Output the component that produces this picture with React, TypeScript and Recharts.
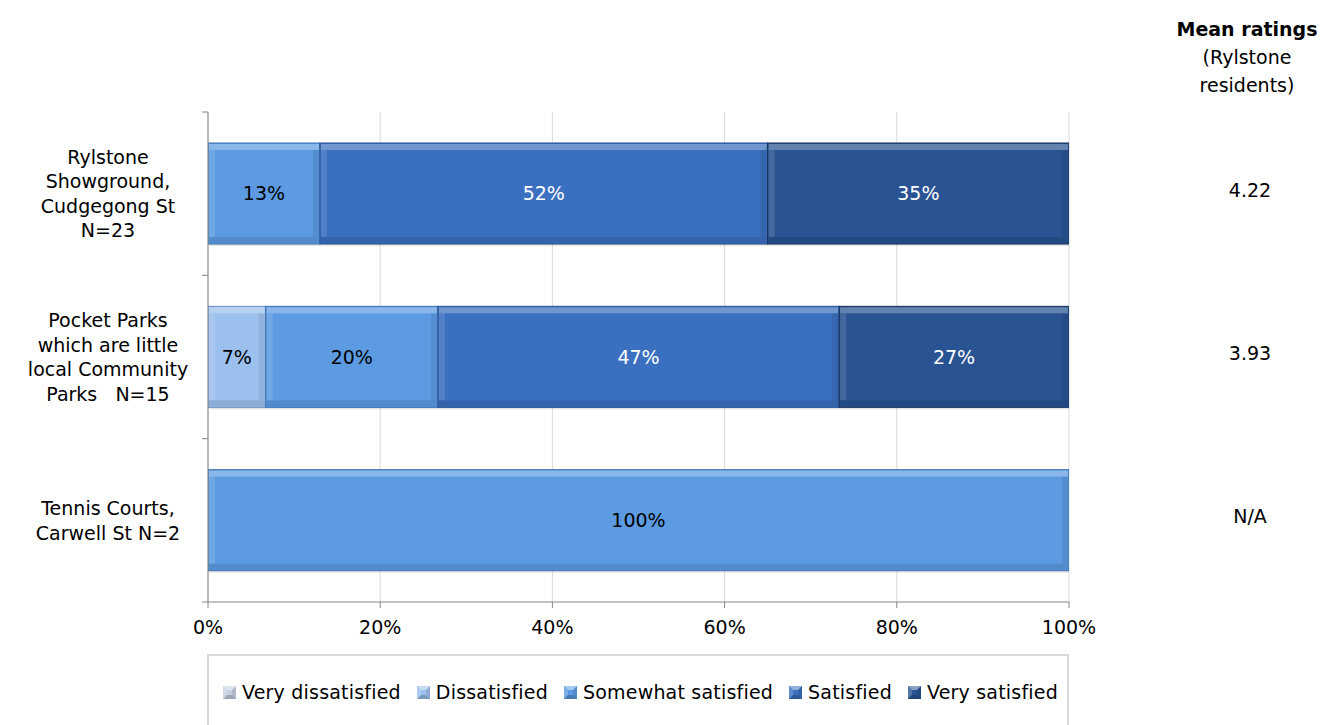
import React from "react";
import { BarChart, Bar, XAxis, YAxis, CartesianGrid, LabelList } from "recharts";

const categories = [
  "Rylstone\nShowground,\nCudgegong St\nN=23",
  "Pocket Parks\nwhich are little\nlocal Community\nParks\u00a0\u00a0\u00a0N=15",
  "Tennis Courts,\nCarwell St N=2",
];
const veryDissatisfied = [0, 0, 0];
const dissatisfied = [0, 6.7, 0];
const somewhatSatisfied = [13, 20, 100];
const satisfied = [52, 46.6, 0];
const verySatisfied = [35, 26.7, 0];
const meanRatings = ["4.22", "3.93", "N/A"];
const xTicks = [0, 20, 40, 60, 80, 100];

const seriesNames = ["Very dissatisfied", "Dissatisfied", "Somewhat satisfied", "Satisfied", "Very satisfied"];
const seriesKeys = ["vd", "d", "ss", "s", "vs"];
const seriesColors = ["#c3d0e2", "#9cc0ee", "#5c9be2", "#3b6fbf", "#295392"];
const seriesDark = ["#8a9ab0", "#6a8fc0", "#3a6fb0", "#244d8e", "#162f5c"];
const seriesLabelColors = ["#000", "#000", "#000", "#fff", "#fff"];

const data = categories.map((name, i) => ({
  name,
  vd: veryDissatisfied[i],
  d: dissatisfied[i],
  ss: somewhatSatisfied[i],
  s: satisfied[i],
  vs: verySatisfied[i],
  mean: meanRatings[i],
}));

const FONT = "'DejaVu Sans', sans-serif";

const makeShape = (idx: number) => (props: any) => {
  const { x, y, width, height } = props;
  if (!width || width <= 0) return <g />;
  const base = seriesColors[idx];
  const dark = seriesDark[idx];
  return (
    <g>
      <rect x={x + 1} y={y + 2} width={width} height={height} fill="#000" opacity={0.1} />
      <rect x={x} y={y} width={width} height={height} fill={base} stroke={dark} strokeWidth={1} />
      <rect x={x + 1} y={y + 1} width={Math.max(0, width - 2)} height={6} fill="#ffffff" opacity={0.28} />
      <rect x={x + 1} y={y + height - 7} width={Math.max(0, width - 2)} height={6} fill="#000000" opacity={0.1} />
      <rect x={x + 1} y={y + 7} width={Math.min(6, width / 4)} height={Math.max(0, height - 14)} fill="#ffffff" opacity={0.12} />
      <rect x={x + width - 7} y={y + 7} width={Math.min(6, width / 4)} height={Math.max(0, height - 14)} fill="#000000" opacity={0.08} />
    </g>
  );
};

const LeftTick = (props: any) => {
  const { x, y, payload, index } = props;
  const lines = String(payload.value).split("\n");
  const half = payload.offset || 490 / 6;
  const lh = 24.5;
  const startY = y - ((lines.length - 1) * lh) / 2;
  return (
    <g>
      <line x1={x - 6} x2={x} y1={y - half} y2={y - half} stroke="#868686" />
      {index === categories.length - 1 && (
        <line x1={x - 6} x2={x} y1={y + half} y2={y + half} stroke="#868686" />
      )}
      <text x={x - 100} y={startY} textAnchor="middle" dominantBaseline="central" fontSize={19} fontFamily={FONT} fill="#000">
        {lines.map((l, i) => (
          <tspan key={i} x={x - 100} dy={i === 0 ? 0 : lh}>
            {l}
          </tspan>
        ))}
      </text>
    </g>
  );
};

const RightTick = (props: any) => {
  const { x, y, index } = props;
  return (
    <text x={x + 181} y={y - 4} textAnchor="middle" dominantBaseline="central" fontSize={19} fontFamily={FONT} fill="#000">
      {meanRatings[index]}
    </text>
  );
};

const LegendIcon = ({ idx }: { idx: number }) => (
  <svg width={13} height={13} style={{ marginRight: 6, verticalAlign: "middle" }}>
    <rect x={0} y={0} width={13} height={13} fill={seriesColors[idx]} />
    <polygon points="0,0 13,0 9,4 4,4" fill="#fff" opacity={0.45} />
    <polygon points="0,13 13,13 9,9 4,9" fill="#000" opacity={0.2} />
    <polygon points="0,0 4,4 4,9 0,13" fill="#fff" opacity={0.2} />
    <polygon points="13,0 9,4 9,9 13,13" fill="#000" opacity={0.1} />
  </svg>
);

export default function App() {
  return (
    <div style={{ position: "absolute", left: 0, top: 0, width: 1326, height: 725, background: "#fff", fontFamily: FONT }}>
      <div
        style={{
          position: "absolute",
          left: 1167,
          top: 15,
          width: 160,
          textAlign: "center",
          fontSize: 19,
          lineHeight: "28px",
          color: "#000",
        }}
      >
        <div style={{ fontWeight: "bold" }}>Mean ratings</div>
        <div>(Rylstone</div>
        <div>residents)</div>
      </div>
      <BarChart
        width={1326}
        height={725}
        data={data}
        layout="vertical"
        margin={{ top: 112, right: 0, bottom: 93, left: 0 }}
        barSize={101}
      >
        <CartesianGrid horizontal={false} vertical={true} stroke="#d9d9d9" />
        <XAxis
          type="number"
          domain={[0, 100]}
          ticks={xTicks}
          tickFormatter={(v: number) => `${v}%`}
          height={30}
          tick={{ fontSize: 19, fill: "#000", fontFamily: FONT }}
          tickSize={6}
          tickMargin={13}
          stroke="#868686"
          allowDataOverflow
        />
        <YAxis
          yAxisId="left"
          type="category"
          dataKey="name"
          width={208}
          tickLine={false}
          tickSize={0}
          tickMargin={0}
          stroke="#868686"
          tick={<LeftTick />}
          interval={0}
        />
        <YAxis
          yAxisId="right"
          orientation="right"
          type="category"
          dataKey="name"
          width={257}
          axisLine={false}
          tickLine={false}
          tickSize={0}
          tickMargin={0}
          tick={<RightTick />}
          interval={0}
        />
        {seriesKeys.map((k, idx) => (
          <Bar
            key={k}
            yAxisId="left"
            dataKey={k}
            name={seriesNames[idx]}
            stackId="a"
            fill={seriesColors[idx]}
            shape={makeShape(idx)}
            isAnimationActive={false}
          >
            <LabelList
              dataKey={k}
              position="center"
              fill={seriesLabelColors[idx]}
              fontSize={19}
              fontFamily={FONT}
              formatter={(v: any) => (Number(v) > 0 ? `${Math.round(Number(v))}%` : "")}
            />
          </Bar>
        ))}
      </BarChart>
      <div
        style={{
          position: "absolute",
          left: 207,
          top: 654,
          width: 862,
          height: 80,
          border: "2px solid #d9d9d9",
          boxSizing: "border-box",
          display: "flex",
          alignItems: "center",
          paddingLeft: 14,
          paddingBottom: 4,
          fontSize: 19,
          letterSpacing: 0.2,
          color: "#000",
          whiteSpace: "nowrap",
        }}
      >
        {seriesNames.map((n, idx) => (
          <span key={n} style={{ marginRight: 16, display: "inline-flex", alignItems: "center" }}>
            <LegendIcon idx={idx} />
            {n}
          </span>
        ))}
      </div>
    </div>
  );
}
